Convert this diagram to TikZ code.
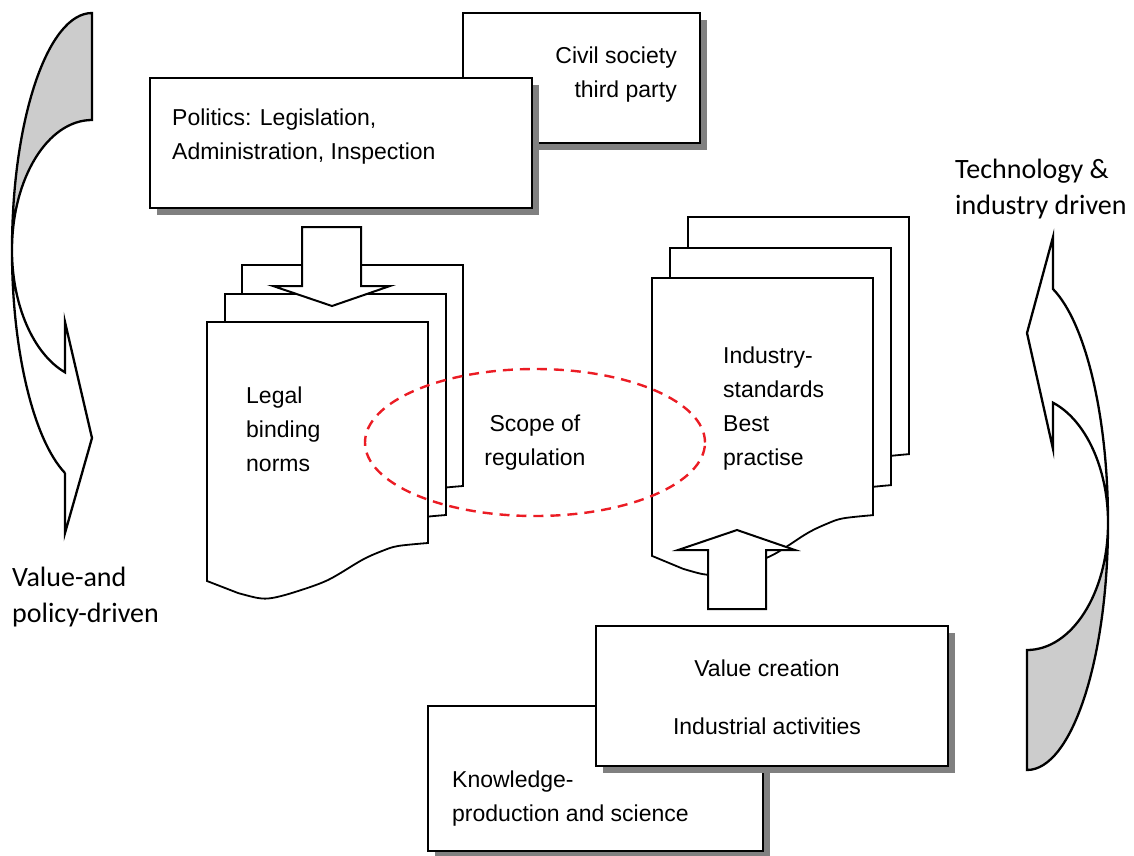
\documentclass[tikz,border=0pt]{standalone}
\usepackage{fontspec}
\setmainfont{Liberation Sans}
\newfontfamily\sidefont{Carlito}
\usetikzlibrary{shapes.geometric}
\definecolor{shadowgray}{RGB}{128,128,128}
\definecolor{backfill}{RGB}{204,204,204}
\definecolor{scopered}{RGB}{235,28,36}

% one sheet of a document stack, origin at its top-left corner (y grows downward)
\tikzset{
  docpage/.pic={
    \path[pageline] (0,0) -- (221,0)
      -- plot[smooth, tension=0.55] coordinates {(221,221) (191,224) (175,229) (155,238) (121,258) (88,270) (65,276) (51,276) (31,271)}
      -- (0,259) -- cycle;
  }
}

\begin{document}
\begin{tikzpicture}[x=1pt, y=1pt, yscale=-1,
  boxtext/.style={font=\fontsize{23}{34}\selectfont, inner sep=0pt},
  sidetext/.style={font=\sidefont\fontsize{28}{36}\selectfont, inner sep=0pt, align=left},
  boxframe/.style={rectangle, draw=black, line width=2.8pt, fill=white, inner sep=0pt, outer sep=0pt},
  boxshadow/.style={fill=shadowgray},
  pageline/.style={draw=black, line width=1.8pt, fill=white, line join=miter},
  blockarrow/.style={draw=black, line width=2pt, fill=white, line join=miter},
  curvedarrow/.style={draw=black, line width=2.3pt, line join=miter},
  scopering/.style={draw=scopered, line width=2.4pt, dash pattern=on 10pt off 7pt},
]
\useasboundingbox (0,0) rectangle (1134,855);

% left bent arrow (value- and policy-driven)
\path[curvedarrow, fill=backfill] (12,250)
  arc[start angle=180, end angle=270, x radius=80, y radius=237] -- (92,120)
  arc[start angle=270, end angle=180, x radius=80, y radius=130] -- cycle;
\path[curvedarrow, fill=white] (65,473) -- (65,533) -- (92,438) -- (65,322) -- (65,372.3)
  arc[start angle=109.7, end angle=180, x radius=80, y radius=130]
  arc[start angle=180, end angle=109.7, x radius=80, y radius=237] -- cycle;

% right bent arrow (technology & industry driven)
\path[curvedarrow, fill=backfill] (1108,523)
  arc[start angle=0, end angle=90, x radius=81, y radius=247] -- (1027,650)
  arc[start angle=90, end angle=0, x radius=81, y radius=127] -- cycle;
\path[curvedarrow, fill=white] (1053,289) -- (1053,237) -- (1027,333) -- (1053,449) -- (1053,402.7)
  arc[start angle=-71.3, end angle=0, x radius=81, y radius=127]
  arc[start angle=0, end angle=-71.3, x radius=81, y radius=247] -- cycle;

% top boxes
\fill[boxshadow] (470,20) rectangle (707,150);
\node[boxframe, anchor=north west, minimum width=237pt, minimum height=130pt] (civil) at (463,13) {};
\node[boxtext, anchor=east, align=right] (civiltext) at (677,74.5) {Civil society\\third party};
\fill[boxshadow] (157,85) rectangle (539,215);
\node[boxframe, anchor=north west, minimum width=382pt, minimum height=130pt] (politics) at (150,78) {};
\node[boxtext, anchor=west, align=left] (politicstext) at (172,136.5) {Politics: Legislation,\\Administration, Inspection};

% legal document stack
\pic[transform shape] (legalback) at (242,265) {docpage};
\pic[transform shape] (legalmid) at (225,294) {docpage};
\pic[transform shape] (legalfront) at (207,322) {docpage};
\node[boxtext, anchor=west, align=left] (legaltext) at (246,429) {Legal\\binding\\norms};
\path[blockarrow] (302,227) -- (361,227) -- (361,286) -- (390,286) -- (332,306) -- (273,286) -- (302,286) -- cycle;

% standards document stack
\pic[transform shape, yscale=1.073] (stdback) at (688,217) {docpage};
\pic[transform shape, yscale=1.073] (stdmid) at (670,248) {docpage};
\pic[transform shape, yscale=1.073] (stdfront) at (652,278) {docpage};
\node[boxtext, anchor=west, align=left] (stdtext) at (723,408.5) {Industry-\\standards\\Best\\practise};
\path[blockarrow] (708,609) -- (766,609) -- (766,550) -- (795,550) -- (737,530) -- (678,550) -- (708,550) -- cycle;

% scope of regulation
\node[scopering, ellipse, boxtext, minimum width=340pt, minimum height=147pt, align=center] (scope) at (535,442.5) {Scope of\\regulation};

% bottom boxes
\fill[boxshadow] (435,713) rectangle (770,858);
\node[boxframe, anchor=north west, minimum width=335pt, minimum height=145pt] (knowledge) at (428,706) {};
\node[boxtext, anchor=west, align=left] (knowledgetext) at (452,799) {Knowledge-\\production and science};
\fill[boxshadow] (603,633) rectangle (955,773);
\node[boxframe, anchor=north west, minimum width=352pt, minimum height=140pt] (value) at (596,626) {};
\node[boxtext, align=center] (valuetext) at (767,697) {Value creation\\[24pt]Industrial activities};

% side labels
\node[sidetext, anchor=west] (leftlabel) at (12,597) {Value-and\\policy-driven};
\node[sidetext, anchor=west] (rightlabel) at (955,189) {Technology \&\\industry driven};
\end{tikzpicture}
\end{document}
